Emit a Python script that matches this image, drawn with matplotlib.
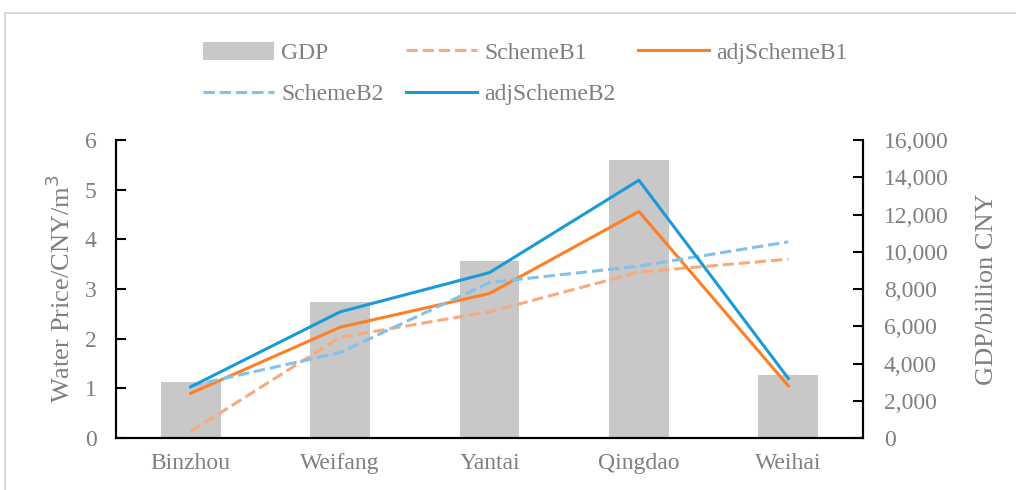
import matplotlib
matplotlib.use('Agg')
import matplotlib.pyplot as plt
from matplotlib.patches import Rectangle
from matplotlib.ticker import FuncFormatter

cities = ["Binzhou", "Weifang", "Yantai", "Qingdao", "Weihai"]
gdp = [2980, 7300, 9500, 14900, 3400]
scheme_b1 = [0.13, 2.03, 2.54, 3.34, 3.60]
adj_scheme_b1 = [0.90, 2.23, 2.91, 4.56, 1.05]
scheme_b2 = [1.05, 1.72, 3.13, 3.46, 3.95]
adj_scheme_b2 = [1.03, 2.54, 3.33, 5.19, 1.20]

plt.rcParams['font.family'] = ['Liberation Serif', 'DejaVu Serif']
text_color = '#7f7f7f'

fig = plt.figure(figsize=(10.16, 4.9), dpi=100)
ax = fig.add_axes([116 / 1016, 1 - 438 / 490, 747 / 1016, 298 / 490])
ax2 = ax.twinx()

x = list(range(len(cities)))

# GDP bars on the right axis, drawn behind the lines
bars = ax2.bar(x, gdp, width=0.4, color='#c8c8c8', label='GDP', zorder=1)
ax2.set_ylim(0, 16000)
ax2.set_yticks(range(0, 16001, 2000))
ax2.yaxis.set_major_formatter(FuncFormatter(lambda v, p: f"{int(v):,}"))

ax.set_zorder(ax2.get_zorder() + 1)
ax.patch.set_visible(False)

l1, = ax.plot(x, scheme_b1, '--', color='#f8aa7c', lw=2.2, label='SchemeB1')
l2, = ax.plot(x, adj_scheme_b1, '-', color='#ff7f27', lw=2.2, label='adjSchemeB1')
l3, = ax.plot(x, scheme_b2, '--', color='#84c1e8', lw=2.2, label='SchemeB2')
l4, = ax.plot(x, adj_scheme_b2, '-', color='#1a9ad6', lw=2.2, label='adjSchemeB2')

ax.set_xlim(-0.5, 4.5)
ax.set_ylim(0, 6)
ax.set_yticks(range(0, 7))
ax.set_xticks(x)
ax.set_xticklabels(cities)

for a in (ax, ax2):
    a.spines['top'].set_visible(False)
    for s in ('left', 'right', 'bottom'):
        a.spines[s].set_linewidth(1.5)
        a.spines[s].set_color('black')

ax.tick_params(axis='y', direction='in', length=7, width=1.5, pad=14,
               labelsize=17, labelcolor=text_color)
ax2.tick_params(axis='y', direction='in', length=7, width=1.5, pad=15,
                labelsize=17, labelcolor=text_color)
ax.tick_params(axis='x', length=0, pad=11, labelsize=17, labelcolor=text_color)

ax.set_ylabel("Water Price/CNY/m$^3$", fontsize=19, color=text_color, labelpad=7)
ax2.set_ylabel("GDP/billion CNY", fontsize=19, color=text_color, labelpad=20)

# legend: column-major order to get Excel's row layout
handles = [bars, l3, l1, l4, l2]
labels = [h.get_label() for h in handles]
leg = fig.legend(handles, labels, loc='center', bbox_to_anchor=(0.517, 0.85),
                 ncol=3, frameon=False, fontsize=17, handlelength=3.0,
                 handleheight=0.8, handletextpad=0.3, columnspacing=0.95,
                 labelspacing=0.8)
for t in leg.get_texts():
    t.set_color(text_color)

# outer chart border
fig.patches.append(Rectangle((5 / 1016, -0.1), 1.2, 0.1 + 1 - 13 / 490,
                             transform=fig.transFigure, fill=False,
                             edgecolor='#d9d9d9', lw=1.5))

plt.savefig('out.png', dpi=100)
plt.close(fig)
